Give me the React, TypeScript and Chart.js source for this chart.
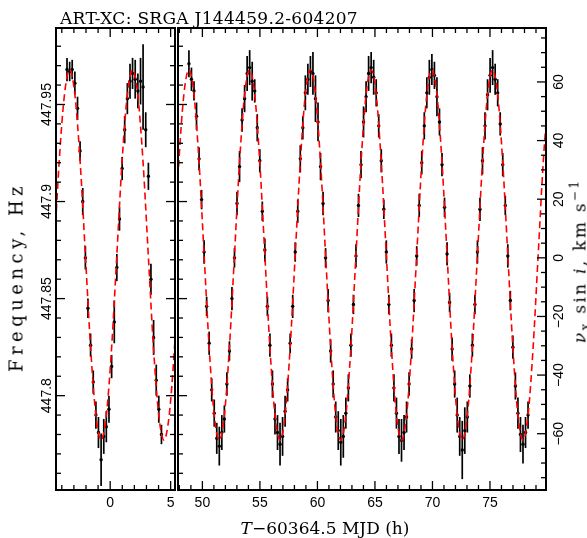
import React, { useEffect, useRef } from "react";
import { Chart, registerables } from "chart.js";

Chart.register(...registerables);

// ---------- axis ranges ----------
const FREQ_MIN = 447.7514;
const FREQ_MAX = 447.9894;
const VEL_MIN = -79.2;
const VEL_MAX = 78.4;
const LEFT_X_MIN = -4.48;
const LEFT_X_MAX = 5.36;
const RIGHT_X_MIN = 47.88;
const RIGHT_X_MAX = 79.87;

// ---------- tick labels ----------
const leftXTickLabels = [0, 5];
const rightXTickLabels = [50, 55, 60, 65, 70, 75];
const freqTickLabels = ["447.8", "447.85", "447.9", "447.95"];
const velTickLabels = [-60, -40, -20, 0, 20, 40, 60];

// ---------- left panel data ----------
const leftTimes = [-3.57, -3.35, -3.14, -2.92, -2.70, -2.49, -2.27, -2.05, -1.84, -1.62, -1.40, -1.18, -0.97, -0.75, -0.53, -0.32, -0.10, 0.12, 0.34, 0.55, 0.77, 0.99, 1.20, 1.42, 1.64, 1.85, 2.07, 2.29, 2.51, 2.72, 2.94, 3.16, 3.37, 3.59, 3.81, 4.02, 4.24];
const leftFreq = [447.968, 447.967, 447.968, 447.961, 447.948, 447.926, 447.900, 447.871, 447.845, 447.826, 447.807, 447.790, 447.781, 447.767, 447.779, 447.784, 447.793, 447.815, 447.838, 447.866, 447.891, 447.917, 447.937, 447.953, 447.962, 447.966, 447.963, 447.957, 447.962, 447.959, 447.937, 447.913, 447.860, 447.830, 447.808, 447.793, 447.780];
const leftErr = [0.006, 0.005, 0.005, 0.006, 0.006, 0.005, 0.007, 0.006, 0.005, 0.006, 0.006, 0.007, 0.008, 0.0135, 0.009, 0.008, 0.007, 0.006, 0.011, 0.007, 0.006, 0.006, 0.007, 0.008, 0.009, 0.008, 0.010, 0.009, 0.012, 0.022, 0.009, 0.007, 0.008, 0.009, 0.008, 0.007, 0.005];
const leftModelTimes = [-4.65, -4.22, -3.78, -3.35, -2.92, -2.48, -2.05, -1.62, -1.18, -0.75, -0.32, 0.12, 0.55, 0.98, 1.42, 1.85, 2.28, 2.72, 3.15, 3.58, 4.02, 4.45, 4.88, 5.32, 5.75];
const leftModelFreq = [447.8725, 447.9202, 447.9551, 447.9679, 447.9551, 447.9202, 447.8725, 447.8248, 447.7899, 447.7771, 447.7899, 447.8248, 447.8725, 447.9202, 447.9551, 447.9679, 447.9551, 447.9202, 447.8725, 447.8248, 447.7899, 447.7771, 447.7899, 447.8248, 447.8725];

// ---------- right panel data ----------
const rightTimes = [48.83, 49.05, 49.27, 49.49, 49.71, 49.93, 50.15, 50.37, 50.59, 50.81, 51.03, 51.25, 51.47, 51.69, 51.91, 52.13, 52.35, 52.57, 52.79, 53.01, 53.23, 53.45, 53.67, 53.89,
  54.11, 54.33, 54.55, 54.77, 54.99, 55.21, 55.43, 55.65, 55.87, 56.09, 56.31, 56.53, 56.75, 56.97, 57.19, 57.41, 57.63, 57.85, 58.07, 58.29, 58.51, 58.73, 58.95, 59.17,
  59.39, 59.61, 59.83, 60.05, 60.27, 60.49, 60.71, 60.93, 61.15, 61.37, 61.59, 61.81, 62.03, 62.25, 62.47, 62.69, 62.91, 63.13, 63.35, 63.57, 63.79, 64.01, 64.23, 64.45,
  64.67, 64.89, 65.11, 65.33, 65.55, 65.77, 65.99, 66.21, 66.43, 66.65, 66.87, 67.09, 67.31, 67.53, 67.75, 67.97, 68.19, 68.41, 68.63, 68.85, 69.07, 69.29, 69.51, 69.73,
  69.95, 70.17, 70.39, 70.61, 70.83, 71.05, 71.27, 71.49, 71.71, 71.93, 72.15, 72.37, 72.59, 72.81, 73.03, 73.25, 73.47, 73.69, 73.91, 74.13, 74.35, 74.57, 74.79, 75.01,
  75.23, 75.45, 75.67, 75.89, 76.11, 76.33, 76.55, 76.77, 76.99, 77.21, 77.43, 77.65, 77.87, 78.09, 78.31];
const rightFreq = [447.971, 447.963, 447.957, 447.944, 447.922, 447.901, 447.874, 447.846, 447.827, 447.803, 447.791, 447.778, 447.774, 447.781, 447.788, 447.806, 447.823, 447.850, 447.871, 447.899, 447.918, 447.942, 447.953, 447.966,
  447.969, 447.962, 447.957, 447.938, 447.921, 447.895, 447.875, 447.846, 447.826, 447.806, 447.788, 447.781, 447.775, 447.779, 447.792, 447.803, 447.827, 447.846, 447.874, 447.895, 447.922, 447.938, 447.956, 447.963,
  447.967, 447.966, 447.953, 447.941, 447.918, 447.899, 447.871, 447.849, 447.823, 447.806, 447.789, 447.782, 447.776, 447.779, 447.791, 447.804, 447.826, 447.847, 447.872, 447.898, 447.919, 447.941, 447.954, 447.966,
  447.969, 447.964, 447.956, 447.939, 447.921, 447.896, 447.874, 447.847, 447.826, 447.804, 447.791, 447.779, 447.777, 447.781, 447.789, 447.806, 447.824, 447.849, 447.872, 447.898, 447.920, 447.939, 447.956, 447.964,
  447.968, 447.965, 447.954, 447.941, 447.919, 447.897, 447.873, 447.848, 447.824, 447.806, 447.790, 447.779, 447.772, 447.782, 447.789, 447.805, 447.826, 447.847, 447.874, 447.896, 447.921, 447.939, 447.955, 447.965,
  447.969, 447.963, 447.956, 447.940, 447.919, 447.898, 447.872, 447.849, 447.825, 447.805, 447.791, 447.780, 447.775, 447.781, 447.790];
const rightErr = [0.007, 0.006, 0.005, 0.007, 0.006, 0.005, 0.006, 0.005, 0.006, 0.006, 0.007, 0.008, 0.010, 0.009, 0.007, 0.006, 0.005, 0.006, 0.005, 0.006, 0.008, 0.006, 0.007, 0.009,
  0.009, 0.010, 0.006, 0.007, 0.006, 0.005, 0.006, 0.005, 0.006, 0.007, 0.008, 0.009, 0.011, 0.010, 0.008, 0.006, 0.005, 0.006, 0.005, 0.006, 0.007, 0.006, 0.009, 0.008,
  0.008, 0.011, 0.012, 0.010, 0.007, 0.006, 0.005, 0.006, 0.006, 0.007, 0.008, 0.010, 0.012, 0.011, 0.008, 0.007, 0.006, 0.005, 0.006, 0.006, 0.007, 0.008, 0.008, 0.009,
  0.008, 0.009, 0.007, 0.006, 0.006, 0.005, 0.006, 0.005, 0.006, 0.007, 0.008, 0.009, 0.011, 0.009, 0.008, 0.006, 0.005, 0.006, 0.005, 0.006, 0.006, 0.007, 0.008, 0.009,
  0.008, 0.007, 0.010, 0.007, 0.006, 0.005, 0.006, 0.005, 0.006, 0.007, 0.009, 0.010, 0.015, 0.012, 0.008, 0.006, 0.006, 0.005, 0.006, 0.006, 0.007, 0.007, 0.008, 0.009,
  0.009, 0.008, 0.007, 0.006, 0.006, 0.005, 0.006, 0.005, 0.006, 0.007, 0.008, 0.009, 0.010, 0.008, 0.007];
const rightModelTimes = [47.51, 47.95, 48.39, 48.83, 49.27, 49.71, 50.15, 50.59, 51.03, 51.47, 51.91, 52.35, 52.79, 53.23, 53.67, 54.11, 54.55, 54.99, 55.43, 55.87, 56.31, 56.75, 57.19, 57.63, 58.07,
  58.51, 58.95, 59.39, 59.83, 60.27, 60.71, 61.15, 61.59, 62.03, 62.47, 62.91, 63.35, 63.79, 64.23, 64.67, 65.11, 65.55, 65.99, 66.43, 66.87, 67.31, 67.75, 68.19, 68.63, 69.07,
  69.51, 69.95, 70.39, 70.83, 71.27, 71.71, 72.15, 72.59, 73.03, 73.47, 73.91, 74.35, 74.79, 75.23, 75.67, 76.11, 76.55, 76.99, 77.43, 77.87, 78.31, 78.75, 79.19, 79.63, 80.07];
const rightModelFreq = [447.8725, 447.9202, 447.9551, 447.9679, 447.9551, 447.9202, 447.8725, 447.8248, 447.7899, 447.7771, 447.7899, 447.8248,
  447.8725, 447.9202, 447.9551, 447.9679, 447.9551, 447.9202, 447.8725, 447.8248, 447.7899, 447.7771, 447.7899, 447.8248,
  447.8725, 447.9202, 447.9551, 447.9679, 447.9551, 447.9202, 447.8725, 447.8248, 447.7899, 447.7771, 447.7899, 447.8248,
  447.8725, 447.9202, 447.9551, 447.9679, 447.9551, 447.9202, 447.8725, 447.8248, 447.7899, 447.7771, 447.7899, 447.8248,
  447.8725, 447.9202, 447.9551, 447.9679, 447.9551, 447.9202, 447.8725, 447.8248, 447.7899, 447.7771, 447.7899, 447.8248,
  447.8725, 447.9202, 447.9551, 447.9679, 447.9551, 447.9202, 447.8725, 447.8248, 447.7899, 447.7771, 447.7899, 447.8248,
  447.8725, 447.9202, 447.9551];

type Panel = {
  times: number[];
  freq: number[];
  err: number[];
  modelTimes: number[];
  modelFreq: number[];
  xMin: number;
  xMax: number;
  padding: { left: number; right: number; top: number; bottom: number };
  xLabels: number[];
  freqLabels: boolean;
  velAxis: boolean;
};

const TICK_FONT = '14px "Liberation Sans", Arial, sans-serif';

function panelPlugin(p: Panel) {
  return {
    id: "panelDecor",
    beforeDatasetsDraw(chart: any) {
      const ctx = chart.ctx as CanvasRenderingContext2D;
      const a = chart.chartArea;
      const xs = chart.scales.x;
      const ys = chart.scales.y;
      ctx.save();
      ctx.beginPath();
      ctx.rect(a.left, a.top, a.right - a.left, a.bottom - a.top);
      ctx.clip();
      ctx.strokeStyle = "#000";
      ctx.lineWidth = 1.7;
      for (let i = 0; i < p.times.length; i++) {
        const px = xs.getPixelForValue(p.times[i]);
        ctx.beginPath();
        ctx.moveTo(px, ys.getPixelForValue(p.freq[i] - p.err[i]));
        ctx.lineTo(px, ys.getPixelForValue(p.freq[i] + p.err[i]));
        ctx.stroke();
      }
      ctx.restore();
    },
    afterDraw(chart: any) {
      const ctx = chart.ctx as CanvasRenderingContext2D;
      const a = chart.chartArea;
      const xs = chart.scales.x;
      const ys = chart.scales.y;
      const line = (x1: number, y1: number, x2: number, y2: number) => {
        ctx.beginPath();
        ctx.moveTo(x1, y1);
        ctx.lineTo(x2, y2);
        ctx.stroke();
      };
      ctx.save();
      ctx.strokeStyle = "#000";
      ctx.lineWidth = 2;
      ctx.strokeRect(a.left, a.top, a.right - a.left, a.bottom - a.top);
      ctx.lineWidth = 1.3;
      // hour ticks
      for (let h = Math.ceil(xs.min); h <= Math.floor(xs.max); h++) {
        const px = xs.getPixelForValue(h);
        const len = h % 5 === 0 ? 9 : 5;
        line(px, a.bottom, px, a.bottom - len);
        line(px, a.top, px, a.top + len);
      }
      // frequency ticks
      for (let i = Math.ceil(ys.min * 100 - 1e-6); i <= Math.floor(ys.max * 100 + 1e-6); i++) {
        const py = ys.getPixelForValue(i / 100);
        const len = i % 5 === 0 ? 9 : 5;
        line(a.left, py, a.left + len, py);
        if (!p.velAxis) line(a.right, py, a.right - len, py);
      }
      // velocity ticks
      if (p.velAxis) {
        const vs = chart.scales.v;
        for (let v = Math.ceil(vs.min / 5) * 5; v <= vs.max; v += 5) {
          const py = vs.getPixelForValue(v);
          const len = v % 20 === 0 ? 9 : 5;
          line(a.right, py, a.right - len, py);
        }
      }
      // labels
      ctx.fillStyle = "#000";
      ctx.font = TICK_FONT;
      ctx.textAlign = "center";
      ctx.textBaseline = "alphabetic";
      for (const h of p.xLabels) {
        ctx.fillText(String(h), xs.getPixelForValue(h), a.bottom + 17);
      }
      if (p.freqLabels) {
        for (const lab of freqTickLabels) {
          const py = ys.getPixelForValue(parseFloat(lab));
          ctx.save();
          ctx.translate(a.left - 5, py);
          ctx.rotate(-Math.PI / 2);
          ctx.fillText(lab, 0, 0);
          ctx.restore();
        }
      }
      if (p.velAxis) {
        const vs = chart.scales.v;
        for (const v of velTickLabels) {
          const py = vs.getPixelForValue(v);
          ctx.save();
          ctx.translate(a.right + 17, py);
          ctx.rotate(-Math.PI / 2);
          ctx.fillText(v < 0 ? "\u2212" + Math.abs(v) : String(v), 0, 0);
          ctx.restore();
        }
      }
      ctx.restore();
    },
  };
}

function buildChart(canvas: HTMLCanvasElement, p: Panel) {
  const scales: any = {
    x: { type: "linear", min: p.xMin, max: p.xMax, display: false },
    y: { type: "linear", min: FREQ_MIN, max: FREQ_MAX, display: false },
  };
  if (p.velAxis) {
    scales.v = { type: "linear", axis: "y", position: "right", min: VEL_MIN, max: VEL_MAX, display: false };
  }
  return new Chart(canvas, {
    type: "scatter",
    data: {
      datasets: [
        {
          type: "line",
          data: p.modelTimes.map((t, i) => ({ x: t, y: p.modelFreq[i] })),
          borderColor: "rgb(255,0,0)",
          borderWidth: 1.6,
          borderDash: [7, 4],
          pointRadius: 0,
          fill: false,
          cubicInterpolationMode: "monotone",
        } as any,
        {
          type: "scatter",
          data: p.times.map((t, i) => ({ x: t, y: p.freq[i] })),
          pointRadius: 1.7,
          pointBackgroundColor: "#000",
          pointBorderColor: "#000",
          pointBorderWidth: 0,
        } as any,
      ],
    },
    options: {
      animation: false,
      responsive: false,
      maintainAspectRatio: false,
      devicePixelRatio: 1,
      events: [],
      layout: { padding: p.padding },
      plugins: { legend: { display: false }, tooltip: { enabled: false }, title: { display: false } },
      scales,
    } as any,
    plugins: [panelPlugin(p)],
  });
}

const leftPanel: Panel = {
  times: leftTimes,
  freq: leftFreq,
  err: leftErr,
  modelTimes: leftModelTimes,
  modelFreq: leftModelFreq,
  xMin: LEFT_X_MIN,
  xMax: LEFT_X_MAX,
  padding: { left: 56, right: 587 - 175, top: 28, bottom: 538 - 490 },
  xLabels: leftXTickLabels,
  freqLabels: true,
  velAxis: false,
};

const rightPanel: Panel = {
  times: rightTimes,
  freq: rightFreq,
  err: rightErr,
  modelTimes: rightModelTimes,
  modelFreq: rightModelFreq,
  xMin: RIGHT_X_MIN,
  xMax: RIGHT_X_MAX,
  padding: { left: 178, right: 587 - 546, top: 28, bottom: 538 - 490 },
  xLabels: rightXTickLabels,
  freqLabels: false,
  velAxis: true,
};

const serif = '"DejaVu Serif", "Liberation Serif", serif';

export default function App() {
  const leftRef = useRef<HTMLCanvasElement>(null);
  const rightRef = useRef<HTMLCanvasElement>(null);

  useEffect(() => {
    const c1 = buildChart(leftRef.current!, leftPanel);
    const c2 = buildChart(rightRef.current!, rightPanel);
    return () => {
      c1.destroy();
      c2.destroy();
    };
  }, []);

  const canvasStyle: React.CSSProperties = { position: "absolute", left: 0, top: 0 };
  return (
    <div style={{ position: "absolute", left: 0, top: 0, width: 587, height: 538, background: "#fff", overflow: "hidden", color: "#000" }}>
      <canvas ref={leftRef} width={587} height={538} style={canvasStyle} />
      <canvas ref={rightRef} width={587} height={538} style={canvasStyle} />
      <div style={{ position: "absolute", left: 60, top: 8.1, font: `17px ${serif}`, lineHeight: "20px", letterSpacing: "0.3px", whiteSpace: "nowrap" }}>
        ART-XC: SRGA J144459.2-604207
      </div>
      <div style={{ position: "absolute", left: 325, top: 518.1, transform: "translateX(-50%)", font: `17px ${serif}`, lineHeight: "20px", letterSpacing: "0px", whiteSpace: "nowrap" }}>
        <i>T</i>{"\u2212"}60364.5 MJD (h)
      </div>
      <div style={{ position: "absolute", left: 16, top: 277, transform: "translate(-50%,-50%) rotate(-90deg)", font: `18px ${serif}`, letterSpacing: "4.5px", whiteSpace: "nowrap" }}>
        Frequency, Hz
      </div>
      <div style={{ position: "absolute", left: 580, top: 261, transform: "translate(-50%,-50%) rotate(-90deg)", font: `17px ${serif}`, letterSpacing: "2.3px", whiteSpace: "nowrap" }}>
        <i>{"\u03bd"}</i><sub style={{ fontSize: 12 }}>x</sub> sin <i>i</i>, km s<sup style={{ fontSize: 12 }}>{"\u2212"}1</sup>
      </div>
    </div>
  );
}
